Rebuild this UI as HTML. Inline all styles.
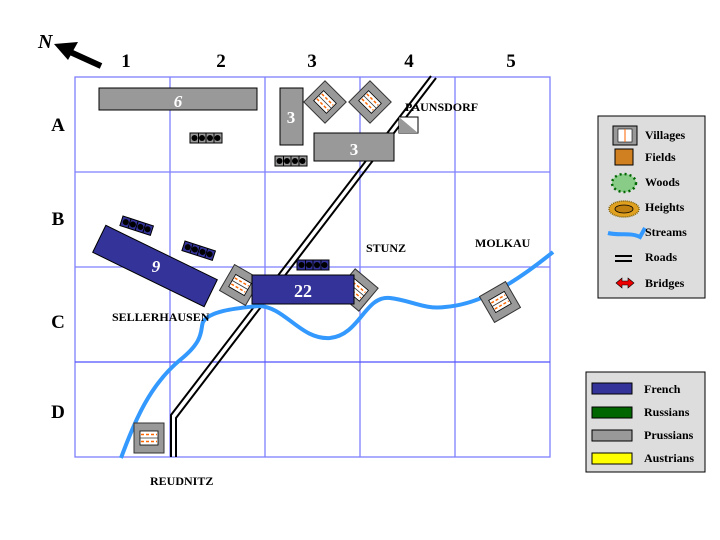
<!DOCTYPE html>
<html><head><meta charset="utf-8"><style>
html,body{margin:0;padding:0;background:#fff}
svg{display:block}
text{font-family:"Liberation Serif",serif;font-weight:bold}
</style></head><body>
<svg width="720" height="540" viewBox="0 0 720 540" xmlns="http://www.w3.org/2000/svg">
<defs>
<g id="vil">
<rect x="-15" y="-15" width="30" height="30" fill="#999" stroke="#333" stroke-width="1"/>
<rect x="-9" y="-7" width="18" height="14" fill="#fff" stroke="#000" stroke-width="0.8"/>
<line x1="-8" y1="-3.5" x2="8" y2="-3.5" stroke="#f60" stroke-width="1.5" stroke-dasharray="3,2"/>
<line x1="-8" y1="3.5" x2="8" y2="3.5" stroke="#f60" stroke-width="1.5" stroke-dasharray="3,2"/>
<line x1="-9" y1="0" x2="9" y2="0" stroke="#333" stroke-width="0.8"/>
</g>
<g id="batG">
<rect x="0" y="0" width="32" height="10" fill="#999" stroke="#000"/>
<circle cx="4.5" cy="5" r="3" fill="#000"/><circle cx="12" cy="5" r="3" fill="#000"/><circle cx="20" cy="5" r="3" fill="#000"/><circle cx="27.5" cy="5" r="3" fill="#000"/>
<line x1="8.5" y1="0" x2="8.5" y2="10" stroke="#000"/><line x1="16" y1="0" x2="16" y2="10" stroke="#000"/><line x1="24" y1="0" x2="24" y2="10" stroke="#000"/>
</g>
<g id="batB">
<rect x="0" y="0" width="32" height="10" fill="#333399" stroke="#000"/>
<circle cx="4.5" cy="5" r="3" fill="#000"/><circle cx="12" cy="5" r="3" fill="#000"/><circle cx="20" cy="5" r="3" fill="#000"/><circle cx="27.5" cy="5" r="3" fill="#000"/>
<line x1="8.5" y1="0" x2="8.5" y2="10" stroke="#000"/><line x1="16" y1="0" x2="16" y2="10" stroke="#000"/><line x1="24" y1="0" x2="24" y2="10" stroke="#000"/>
</g>
</defs>

<!-- grid -->
<g stroke="#7f7fff" stroke-width="1.3" fill="none">
<rect x="75" y="77" width="475" height="380"/>
<line x1="170" y1="77" x2="170" y2="457"/>
<line x1="265" y1="77" x2="265" y2="457"/>
<line x1="360" y1="77" x2="360" y2="457"/>
<line x1="455" y1="77" x2="455" y2="457"/>
<line x1="75" y1="172" x2="550" y2="172"/>
<line x1="75" y1="267" x2="550" y2="267"/>
<line x1="75" y1="362" x2="550" y2="362" stroke="#5050ff"/>
</g>

<!-- labels -->
<g font-size="19" text-anchor="middle">
<text x="126" y="67">1</text><text x="221" y="67">2</text><text x="312" y="67">3</text><text x="409" y="67">4</text><text x="511" y="67">5</text>
<text x="58" y="131">A</text><text x="58" y="225">B</text><text x="58" y="328">C</text><text x="58" y="418">D</text>
</g>
<text x="38" y="48" font-size="20" font-style="italic">N</text>
<line x1="101" y1="66" x2="68" y2="51" stroke="#000" stroke-width="6"/>
<polygon points="54,44 78,42 68,60" fill="#000"/>

<!-- road -->
<g stroke="#000" stroke-width="2" fill="none">
<polyline points="431,76 171,415 171,457"/>
<polyline points="436,78 176,418 176,457"/>
</g>

<!-- Prussians -->
<rect x="99" y="88" width="158" height="22" fill="#999" stroke="#000"/>
<text x="178" y="107" font-size="17" fill="#fff" text-anchor="middle" font-style="italic" font-weight="normal">6</text>
<use href="#batG" x="190" y="133"/>
<rect x="280" y="88" width="23" height="57" fill="#999" stroke="#000"/>
<text x="291" y="123" font-size="17" fill="#fff" text-anchor="middle" font-weight="normal">3</text>
<use href="#batG" x="275" y="156"/>
<use href="#vil" transform="translate(325,102) rotate(45)"/>
<use href="#vil" transform="translate(370,102) rotate(45)"/>
<rect x="314" y="133" width="80" height="28" fill="#999" stroke="#000"/>
<text x="354" y="155" font-size="17" fill="#fff" text-anchor="middle" font-weight="normal">3</text>
<rect x="399" y="117" width="19" height="16" fill="#fff" stroke="#000"/>
<polygon points="399,117 418,133 399,133" fill="#999"/>
<text x="405" y="111" font-size="12">PAUNSDORF</text>

<!-- stream -->
<path d="M121,458 C135,420 150,385 180,360 C205,340 200,330 203,322 C210,310 240,308 258,306 C285,306 300,340 330,338 C360,335 365,295 390,298 C410,300 425,310 445,307 C470,305 500,295 553,252" stroke="#3399ff" stroke-width="4" fill="none"/>

<!-- French -->
<use href="#batB" transform="translate(123,216) rotate(18)"/>
<use href="#batB" transform="translate(185,241) rotate(18)"/>
<use href="#batB" x="297" y="260"/>
<g transform="translate(155,266) rotate(26)">
<rect x="-62" y="-15" width="124" height="30" fill="#333399" stroke="#000"/>
</g>
<text x="156" y="272" font-size="17" fill="#fff" text-anchor="middle" font-style="italic" font-weight="normal">9</text>
<use href="#vil" transform="translate(240,285) rotate(30)"/>
<use href="#vil" transform="translate(357,290) rotate(40)"/>
<rect x="252" y="275" width="102" height="29" fill="#333399" stroke="#000"/>
<text x="303" y="297" font-size="18" fill="#fff" text-anchor="middle" font-weight="normal">22</text>

<use href="#vil" transform="translate(500,302) rotate(-30)"/>
<use href="#vil" transform="translate(149,438)"/>

<g font-size="12">
<text x="112" y="321">SELLERHAUSEN</text>
<text x="366" y="252">STUNZ</text>
<text x="475" y="247">MOLKAU</text>
<text x="150" y="485">REUDNITZ</text>
</g>

<!-- legend 1 -->
<rect x="598" y="116" width="107" height="182" fill="#ddd" stroke="#000"/>
<rect x="613" y="126" width="24" height="19" fill="#999" stroke="#000"/>
<rect x="618" y="129" width="14" height="13" fill="#fff" stroke="#000" stroke-width="0.6"/>
<line x1="625" y1="129" x2="625" y2="142" stroke="#f60"/>
<rect x="615" y="149" width="18" height="16" fill="#d08020" stroke="#000"/>
<ellipse cx="624" cy="183" rx="12" ry="9" fill="#88cc88" stroke="#006600" stroke-width="2.5" stroke-dasharray="2,3"/>
<ellipse cx="624" cy="209" rx="15" ry="8" fill="#e0a020" stroke="#806000" stroke-width="1.5" stroke-dasharray="1,1"/>
<ellipse cx="624" cy="209" rx="9" ry="4" fill="#c08010" stroke="#000" stroke-width="0.8"/>
<path d="M608,233 C620,236 630,232 640,237 L645,228" stroke="#3399ff" stroke-width="4" fill="none"/>
<line x1="615" y1="256" x2="632" y2="256" stroke="#000" stroke-width="2"/>
<line x1="615" y1="261" x2="632" y2="261" stroke="#000" stroke-width="2"/>
<polygon points="616,283 622,278 622,281 628,281 628,278 634,283 628,288 628,285 622,285 622,288" fill="#e00" stroke="#000" stroke-width="0.6"/>
<g font-size="12">
<text x="645" y="139">Villages</text>
<text x="645" y="161">Fields</text>
<text x="645" y="186">Woods</text>
<text x="645" y="211">Heights</text>
<text x="645" y="236">Streams</text>
<text x="645" y="261">Roads</text>
<text x="645" y="287">Bridges</text>
</g>

<!-- legend 2 -->
<rect x="586" y="372" width="119" height="100" fill="#ddd" stroke="#000"/>
<rect x="592" y="383" width="40" height="11" fill="#333399" stroke="#000"/>
<rect x="592" y="407" width="40" height="11" fill="#006600" stroke="#000"/>
<rect x="592" y="430" width="40" height="11" fill="#999" stroke="#000"/>
<rect x="592" y="453" width="40" height="11" fill="#ffff00" stroke="#000"/>
<g font-size="12">
<text x="644" y="393">French</text>
<text x="644" y="416">Russians</text>
<text x="644" y="439">Prussians</text>
<text x="644" y="462">Austrians</text>
</g>
</svg>
</body></html>
